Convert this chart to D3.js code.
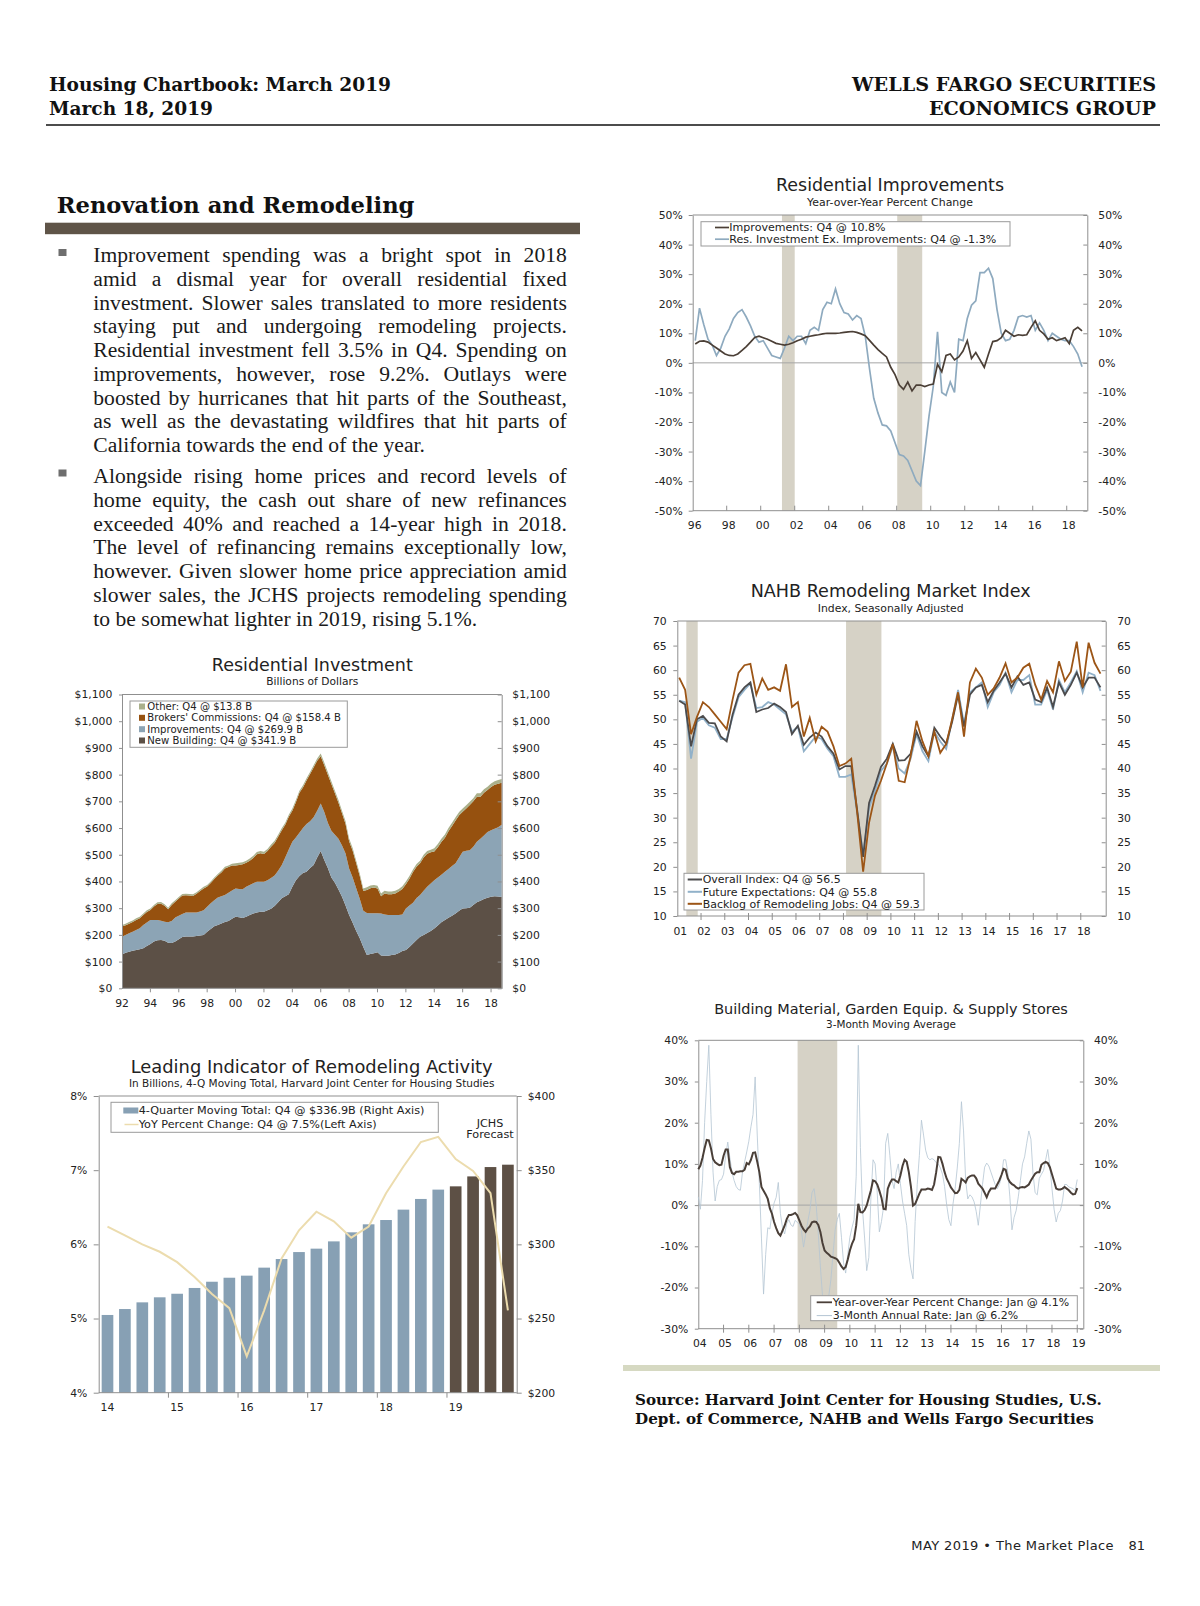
<!DOCTYPE html>
<html lang="en">
<head>
<meta charset="utf-8">
<title>Housing Chartbook: March 2019</title>
<script src="https://cdn.jsdelivr.net/npm/d3@7"></script>
<style>
  body { margin: 0; background: #fff; }
  svg text { font-family: "DejaVu Sans", Verdana, sans-serif; fill: #222; }
  svg text.serif { font-family: "DejaVu Serif", Georgia, serif; font-weight: bold; fill: #111; }
  svg text.body { font-family: "Liberation Serif", "Times New Roman", serif; font-size: 21.6px; fill: #1a1a1a; }
</style>
</head>
<body>
<svg id="page" width="1200" height="1606"></svg>
<script>
// ---- Residential Improvements, y/y % change, quarterly 1996Q1-2018Q4
var riImprovements = [
  6.4, 7.3, 7.4, 7.0,   6.0, 5.0, 4.0, 3.0,   2.5, 2.4, 3.0, 4.2,   5.5, 7.0, 8.6, 9.0,
  8.5, 8.0, 7.3, 6.6,   6.3, 6.0, 6.3, 6.8,   7.5, 8.0, 8.7, 9.0,   9.3, 9.5, 9.8, 10.0,
  10.0, 10.0, 10.1, 10.3,  10.5, 10.6, 10.3, 9.8,  9.2, 7.6, 6.0, 4.5,  3.2, 2.0, -1.5, -4.0,
  -7.5, -9.0, -6.5, -9.5,  -7.5, -7.5, -8.0, -7.5,  -7.2, -0.5, -3.0, 2.5,  3.0, 1.0, 2.0, 4.0,
  7.5, 1.5, 3.5, 1.0,   -1.5, 3.0, 7.2, 7.5,   8.5, 11.0, 10.0, 9.0,   9.5, 9.3, 9.5, 12.0,
  14.2, 11.0, 9.8, 8.0,  8.5, 7.5, 8.0, 8.5,   6.5, 11.0, 12.0, 10.8
];
var riResInvEx = [
  7.5, 18.5, 13.0, 8.0,  6.0, 2.5, 5.0, 9.0,  11.5, 15.0, 17.0, 18.0,  15.5, 12.5, 9.0, 7.0,
  7.5, 5.0, 2.5, 2.0,   1.5, 5.0, 9.0, 7.5,  9.0, 9.0, 6.5, 11.0,   12.0, 11.0, 18.0, 20.5,
  20.0, 25.0, 20.0, 17.0,  16.5, 14.5, 16.0, 15.0,  9.0, -2.0, -12.0, -17.0,  -21.0, -21.3, -23.0, -27.0,
  -31.0, -31.5, -33.0, -36.5,  -40.0, -41.5, -30.0, -18.0,  -8.0, 10.5, -10.0, -11.0,  -6.5, -10.0, 8.0, 7.5,
  15.0, 19.5, 21.0, 30.5,  30.5, 32.0, 28.5, 18.0,  10.0, 7.5, 8.0, 11.0,  15.5, 16.0, 15.5, 16.0,
  11.0, 13.5, 11.0, 7.5,  10.0, 9.0, 8.0, 7.5,  7.5, 5.5, 3.0, -1.3
];
var riRecessions = [[2001.25, 2002.0], [2008.03, 2009.5]];
var riYTicks = [-50, -40, -30, -20, -10, 0, 10, 20, 30, 40, 50];
var riXTicks = [1998, 2000, 2002, 2004, 2006, 2008, 2010, 2012, 2014, 2016, 2018];
var riXLabels = [1996, 1998, 2000, 2002, 2004, 2006, 2008, 2010, 2012, 2014, 2016, 2018];

// ---- NAHB Remodeling Market Index, quarterly 2001Q1-2018Q4
var nahbOverall = [
  53.8, 53.0, 44.5, 50.0,  50.7, 49.3, 49.2, 46.5,  45.5, 51.0, 55.0, 56.5,  57.5, 51.5, 52.0, 52.3,
  53.2, 52.5, 51.5, 47.0,  48.7, 44.8, 46.3, 47.3,  46.5, 44.5, 43.0, 39.8,  40.5, 40.5, 31.5, 22.0,
  33.0, 36.5, 40.3, 42.0,  45.0, 41.6, 41.7, 43.0,  47.5, 44.5, 42.5, 48.3,  46.5, 45.0, 49.5, 55.0,
  48.5, 55.0, 56.5, 57.0,  53.5, 55.8, 57.5, 59.3,  56.5, 58.7, 57.0, 57.5,  54.0, 53.5, 56.5, 52.5,
  57.5, 55.0, 57.0, 59.5,  56.5, 58.5, 58.5, 56.5
];
var nahbFuture = [
  53.8, 53.5, 42.0, 49.5,  50.3, 48.8, 48.3, 46.0,  46.0, 50.5, 54.5, 56.0,  57.3, 52.3, 52.5, 53.5,
  53.0, 52.0, 51.0, 47.5,  48.5, 43.5, 45.0, 46.5,  46.0, 44.0, 42.5, 38.3,  38.3, 38.8, 31.0, 22.5,
  32.0, 35.5, 39.5, 41.0,  44.5, 40.0, 39.0, 42.0,  47.0, 43.5, 41.5, 47.5,  45.5, 44.0, 50.0, 56.0,
  49.0, 55.5, 56.5, 57.5,  52.5, 55.5, 57.0, 59.5,  55.5, 58.0, 58.0, 59.0,  53.0, 53.0, 56.0, 52.0,
  58.0, 55.5, 57.5, 59.8,  55.5, 59.5, 59.0, 55.8
];
var nahbBacklog = [
  58.5, 56.0, 47.0, 50.5,  53.5, 52.5, 51.0, 49.5,  48.0, 54.0, 59.5, 61.0,  61.3, 55.0, 58.3, 56.0,
  56.5, 55.8, 61.2, 52.5,  53.5, 46.5, 50.3, 45.5,  48.5, 47.5, 44.5, 40.5,  41.0, 42.0, 31.0, 19.0,
  29.0, 34.5, 37.5, 41.0,  45.0, 37.5, 37.2, 42.5,  49.7, 45.5, 42.5, 47.5,  43.2, 45.0, 50.0, 55.5,
  46.5, 57.5, 60.3, 58.5,  55.0, 56.3, 58.5, 61.4,  57.5, 58.5, 60.5, 61.3,  57.0, 54.0, 57.8, 55.5,
  61.8, 57.8, 59.7, 65.8,  56.5, 65.6, 61.5, 59.3
];
var nahbRecessions = [[2001.38, 2001.86], [2008.11, 2009.6]];
var nahbYTicks = [10, 15, 20, 25, 30, 35, 40, 45, 50, 55, 60, 65, 70];
var nahbXTicks = [2002, 2003, 2004, 2005, 2006, 2007, 2008, 2009, 2010, 2011, 2012, 2013, 2014, 2015, 2016, 2017, 2018];
var nahbXLabels = [2001, 2002, 2003, 2004, 2005, 2006, 2007, 2008, 2009, 2010, 2011, 2012, 2013, 2014, 2015, 2016, 2017, 2018];

// ---- Residential Investment, billions of dollars, quarterly 1992Q1-2018Q4
var rinvNew = [
  127, 133, 137, 141,  143, 146, 150, 158,  166, 175, 180, 181,  178, 171, 170, 175,
  184, 192, 194, 194,  194, 196, 198, 200,  212, 222, 232, 237,  243, 248, 252, 260,
  268, 266, 263, 268,  274, 280, 284, 287,  287, 292, 298, 308,  322, 337, 345, 352,
  380, 405, 420, 432,  436, 450, 462, 490,  514, 480, 450, 415,  395, 370, 343, 310,
  274, 245, 215, 187,  155, 125, 128, 131,  135, 123, 122, 122,  125, 127, 132, 140,
  143, 155, 168, 181,  193, 200, 207, 215,  224, 235, 247, 256,  264, 272, 280, 290,
  299, 300, 302, 312,  322, 328, 334, 339,  343, 345, 344, 342
];
var rinvImprovements = [
  66, 67, 69, 71,  75, 79, 87, 88,  90, 81, 76, 72,  71, 76, 82, 90,
  88, 86, 90, 90,  90, 88, 90, 92,  93, 96, 98, 103,  102, 101, 106, 106,
  106, 106, 108, 112,  113, 113, 115, 112,  112, 113, 115, 114,  118, 124, 145, 168,
  169, 160, 162, 168,  179, 175, 178, 175,  178, 180, 170, 175,  180, 190, 192, 195,
  175, 170, 160, 148,  135, 157, 153, 150,  146, 157, 154, 152,  149, 147, 142, 136,
  156, 155, 152, 157,  156, 165, 173, 177,  181, 180, 178, 180,  183, 186, 188, 200,
  212, 215, 215, 218,  227, 232, 238, 246,  249, 252, 259, 270
];
var rinvBrokers = [
  38, 36, 36, 36,  38, 37, 37, 40,  37, 50, 60, 64,  60, 49, 60, 59,
  64, 69, 64, 63,  62, 70, 76, 82,  76, 76, 79, 82,  89, 100, 96, 94,
  86, 90, 93, 90,  91, 95, 103, 107,  104, 109, 117, 122,  127, 130, 122, 122,
  116, 132, 150, 152,  163, 177, 187, 187,  177, 175, 180, 175,  155, 135, 120, 110,
  102, 100, 93, 85,  74, 86, 94, 96,  93, 65, 79, 78,  78, 81, 88, 96,
  91, 100, 115, 117,  119, 125, 124, 117,  107, 113, 123, 128,  141, 150, 160, 158,
  150, 158, 169, 170,  168, 157, 160, 157,  162, 165, 163, 158
];
var rinvOther = [
  6, 6, 6, 6,  6, 6, 6, 6,  6, 6, 6, 6,  6, 6, 6, 6,
  6, 6, 6, 6,  6, 6, 6, 6,  6, 6, 6, 6,  6, 6, 6, 6,
  8, 8, 8, 8,  8, 8, 8, 8,  8, 8, 8, 8,  8, 8, 8, 8,
  8, 8, 8, 8,  8, 8, 8, 8,  10, 10, 10, 10,  10, 10, 10, 10,
  10, 10, 10, 10,  10, 10, 10, 10,  10, 10, 10, 10,  10, 10, 10, 10,
  10, 10, 10, 10,  10, 10, 10, 10,  12, 12, 12, 12,  12, 12, 12, 12,
  12, 12, 12, 12,  13, 13, 13, 13,  13, 13, 14, 14
];
var rinvYTicks = [0, 100, 200, 300, 400, 500, 600, 700, 800, 900, 1000, 1100];
var rinvXTicks = [1994, 1996, 1998, 2000, 2002, 2004, 2006, 2008, 2010, 2012, 2014, 2016, 2018];
var rinvXLabels = [1992, 1994, 1996, 1998, 2000, 2002, 2004, 2006, 2008, 2010, 2012, 2014, 2016, 2018];

// ---- Leading Indicator of Remodeling Activity, 2014Q1-2019Q4 (2019 = JCHS forecast)
var liQuarters = [
  "2014Q1", "2014Q2", "2014Q3", "2014Q4", "2015Q1", "2015Q2", "2015Q3", "2015Q4",
  "2016Q1", "2016Q2", "2016Q3", "2016Q4", "2017Q1", "2017Q2", "2017Q3", "2017Q4",
  "2018Q1", "2018Q2", "2018Q3", "2018Q4", "2019Q1", "2019Q2", "2019Q3", "2019Q4"
];
var liTotal = [252.4, 256.4, 260.9, 264.3, 266.7, 270.6, 274.8, 277.5, 278.9, 284.3, 290.1, 294.8,
               297.1, 302.0, 308.1, 313.5, 316.4, 323.4, 330.6, 336.9, 339.1, 345.8, 352.1, 353.7];
var liYoY = [6.24, 6.12, 6.00, 5.90, 5.76, 5.56, 5.33, 5.14, 4.49, 5.11, 5.81, 6.19,
             6.44, 6.31, 6.09, 6.24, 6.69, 7.05, 7.38, 7.45, 7.15, 6.99, 6.69, 5.11];
var liLeftTicks = [4, 5, 6, 7, 8];
var liRightTicks = [200, 250, 300, 350, 400];
var liYears = ["14", "15", "16", "17", "18", "19"];

// ---- Building Material, Garden Equip. & Supply Stores, monthly Jan 2004 - Jan 2019
var bmYoY = [
  8.7, 9.6, 11.5, 13.8, 15.8, 15.7, 13.8, 11.2, 10.4, 10.0, 9.7, 9.8,
  12.0, 13.5, 13.5, 9.2, 7.8, 7.5, 8.1, 8.1, 8.2, 8.2, 8.6, 10.2,
  9.9, 11.0, 12.7, 12.8, 10.5, 8.0, 4.4, 3.5, 2.6, 1.5, -0.8, -2.1,
  -4.1, -5.6, -6.8, -7.4, -6.2, -5.0, -3.4, -2.4, -2.4, -2.2, -1.9, -2.5,
  -3.7, -5.0, -5.9, -6.5, -5.7, -5.2, -4.2, -4.0, -4.1, -4.8, -6.5, -9.2,
  -11.0, -11.6, -12.0, -12.5, -12.7, -12.9, -13.2, -14.0, -14.9, -15.5, -15.0, -13.2,
  -11.0, -9.4, -8.3, -5.0, 0.3, -1.7, -1.8, -1.2, -0.1, 1.8, 3.6, 6.0,
  5.8, 5.0, 3.5, 1.8, -0.9, -1.0, 4.0, 5.3, 6.2, 6.2, 5.8, 5.5,
  7.2, 9.5, 11.0, 10.5, 8.0, 4.5, -0.1, 0.3, 1.5, 2.8, 3.8, 3.8,
  3.8, 4.0, 3.9, 3.7, 5.0, 8.0, 11.7, 11.6, 10.0, 8.0, 6.4, 5.4,
  4.3, 3.6, 2.9, 3.0, 3.7, 6.4, 6.0, 5.5, 6.6, 7.0, 7.2, 7.2,
  6.5, 5.2, 4.6, 4.0, 3.0, 1.9, 3.2, 4.0, 4.0, 4.0, 5.0, 6.0,
  7.3, 8.8, 8.6, 6.5, 5.6, 5.1, 4.8, 4.3, 4.0, 4.3, 4.4, 4.3,
  4.6, 5.0, 6.0, 6.8, 7.6, 8.0, 8.0, 9.8, 10.2, 10.5, 10.2, 9.2,
  7.5, 5.8, 4.0, 3.8, 3.8, 4.0, 4.4, 4.0, 3.6, 3.0, 2.6, 2.7,
  4.1
];
var bmRate = [
  2.0, -1.0, 6.0, 20.0, 30.0, 38.8, 22.0, 8.0, 1.0, 4.5, 6.0, 6.2,
  7.5, 12.0, 15.3, 11.5, 8.0, 6.0, 4.5, 3.8, 3.6, 8.0, 10.5, 12.9,
  15.5, 19.0, 22.0, 31.1, 17.0, 5.2, -8.0, -21.6, -12.0, -5.5, -5.8, -2.0,
  0.5, 1.9, 5.5, -2.0, -5.5, -7.0, -4.5, -3.5, -4.8, -5.2, -3.7, -4.2,
  -4.6, -6.2, -10.2, -7.0, -4.0, -1.3, 3.0, 4.0, 0.0, -7.0, -15.0, -22.0,
  -26.0, -24.0, -22.0, -18.0, -11.8, -6.0, -3.5, -2.0, -7.8, -14.0, -16.5, -12.0,
  -7.8, -5.5, -3.5, 7.0, 38.8, 14.0, -1.0, -8.0, -15.9, -12.7, 2.0, 11.0,
  10.0, 3.0, -6.5, -4.0, -0.5, 15.0, 17.4, 12.0, 6.0, 4.0, 8.0, 10.0,
  5.2, 1.0, -2.0, -5.0, -12.0, -15.5, -17.9, -4.0, 5.0, 12.0, 20.6, 17.0,
  13.3, 11.5, 11.0, 11.3, 11.0, 10.3, 10.0, 9.0, 7.5, 4.5, 0.0, -3.5,
  -5.0, 0.3, 4.0, 9.0, 15.0, 25.1, 18.0, 6.0, 1.5, 2.5, 2.0, 0.8,
  -1.5, -4.9, 0.0, 5.0, 9.2, 10.2, 9.5, 8.0, 6.5, 5.0, 4.0, 5.0,
  6.8, 11.0, 11.0, 8.0, 2.0, -6.0, -3.0, -1.3, 2.0, 6.0, 10.0, 11.7,
  15.0, 18.0, 16.0, 7.6, 3.0, 2.5, 6.5, 7.5, 8.4, 11.0, 13.5, 9.5,
  4.0, -1.0, -4.1, -2.0, -1.3, 1.0, 5.0, 5.0, 4.4, 4.2, 4.0, 3.5,
  6.2
];
var bmRecessions = [[2007.93, 2009.5]];
var bmYTicks = [-30, -20, -10, 0, 10, 20, 30, 40];
var bmXTicks = [2005, 2006, 2007, 2008, 2009, 2010, 2011, 2012, 2013, 2014, 2015, 2016, 2017, 2018, 2019];
var bmXLabels = [2004, 2005, 2006, 2007, 2008, 2009, 2010, 2011, 2012, 2013, 2014, 2015, 2016, 2017, 2018, 2019];

// ---- page text
var bullet1 = [
  "Improvement spending was a bright spot in 2018",
  "amid a dismal year for overall residential fixed",
  "investment. Slower sales translated to more residents",
  "staying put and undergoing remodeling projects.",
  "Residential investment fell 3.5% in Q4. Spending on",
  "improvements, however, rose 9.2%. Outlays were",
  "boosted by hurricanes that hit parts of the Southeast,",
  "as well as the devastating wildfires that hit parts of",
  "California towards the end of the year."
];
var bullet2 = [
  "Alongside rising home prices and record levels of",
  "home equity, the cash out share of new refinances",
  "exceeded 40% and reached a 14-year high in 2018.",
  "The level of refinancing remains exceptionally low,",
  "however. Given slower home price appreciation amid",
  "slower sales, the JCHS projects remodeling spending",
  "to be somewhat lighter in 2019, rising 5.1%."
];

var AX = "#8f8f8f";
var REC = "#d6d2c6";
var FS = 10.8;

var svg = d3.select("#page");
svg.append("rect").attr("width", 1200).attr("height", 1606).attr("fill", "#fff");

function fitText(t, w) {
  var n = t.node().getComputedTextLength();
  var fs = parseFloat(t.style("font-size"));
  var s = fs * w / n;
  t.style("font-size", s.toFixed(2) + "px");
  return s;
}
function put(x, y, s, cls, size, anchor) {
  var t = svg.append("text").attr("x", x).attr("y", y).text(s).style("font-size", size + "px");
  if (cls) t.attr("class", cls);
  if (anchor) t.attr("text-anchor", anchor);
  return t;
}

// header
var hs = fitText(put(49, 91, "Housing Chartbook: March 2019", "serif", 20), 342);
put(49, 114.6, "March 18, 2019", "serif", hs);
var hr = fitText(put(1156, 91, "WELLS FARGO SECURITIES", "serif", 20, "end"), 304);
put(1156, 114.6, "ECONOMICS GROUP", "serif", hr, "end");
svg.append("line").attr("x1", 46).attr("x2", 1160).attr("y1", 125).attr("y2", 125)
  .attr("stroke", "#111").attr("stroke-width", 1.6);

// section title and text
fitText(put(56.7, 213.3, "Renovation and Remodeling", "serif", 26), 358);
svg.append("rect").attr("x", 45).attr("y", 222.7).attr("width", 535).attr("height", 11.5).attr("fill", "#5f5448");

function para(lines, x, y0, w, lh) {
  lines.forEach(function (s, i) {
    var t = svg.append("text").attr("class", "body").attr("x", x).attr("y", y0 + i * lh).text(s);
    if (i < lines.length - 1) {
      var n = s.split(" ").length - 1;
      var nat = t.node().getComputedTextLength();
      t.style("word-spacing", ((w - nat) / n).toFixed(2) + "px");
    }
  });
}
svg.append("rect").attr("x", 58.5).attr("y", 249).attr("width", 8).attr("height", 7).attr("fill", "#6e6e6e");
svg.append("rect").attr("x", 58.5).attr("y", 469.5).attr("width", 8).attr("height", 7).attr("fill", "#6e6e6e");
para(bullet1, 93.3, 262.2, 473.5, 23.75);
para(bullet2, 93.3, 483, 473.5, 23.75);

// source block and footer
svg.append("rect").attr("x", 623).attr("y", 1365).attr("width", 537).attr("height", 6).attr("fill", "#d6d9c2");
var ss = fitText(put(635, 1405, "Source: Harvard Joint Center for Housing Studies, U.S.", "serif", 17), 467);
put(635, 1423.5, "Dept. of Commerce, NAHB and Wells Fargo Securities", "serif", ss);
put(1114, 1550, "MAY 2019 \u2022 The Market Place", null, 13, "end").attr("fill", "#6a6a6a").style("letter-spacing", "0.4px");
put(1145, 1550, "81", null, 13, "end").attr("fill", "#6a6a6a");

// ---- shared chart helpers
function title(cx, y1, s1, w1, y2, s2, w2) {
  fitText(put(cx, y1, s1, null, 16, "middle").attr("fill", "#111"), w1);
  fitText(put(cx, y2, s2, null, 10, "middle").attr("fill", "#222"), w2);
}
function box(g, L, R, T, B) {
  g.append("line").attr("x1", L).attr("x2", R).attr("y1", T).attr("y2", T).attr("stroke", AX);
  g.append("line").attr("x1", L).attr("x2", R).attr("y1", B).attr("y2", B).attr("stroke", AX);
}
function yAxes(g, y, L, R, vals, fmt, o) {
  g.append("g").attr("transform", "translate(" + L + ",0)")
    .call(d3.axisLeft(y).tickValues(vals).tickFormat(fmt).tickSizeInner(o.tl).tickSizeOuter(0).tickPadding(o.pl));
  g.append("g").attr("transform", "translate(" + R + ",0)")
    .call(d3.axisRight(y).tickValues(vals).tickFormat(fmt).tickSizeInner(o.tr).tickSizeOuter(0).tickPadding(o.pr));
  g.selectAll(".domain, .tick line").attr("stroke", AX);
  g.selectAll(".tick text").attr("fill", "#333").style("font-size", FS + "px");
}
function xAxis(g, x, B, ticks, up, down, labels, dx, ly) {
  g.selectAll(null).data(ticks).join("line")
    .attr("x1", function (d) { return x(d); }).attr("x2", function (d) { return x(d); })
    .attr("y1", B - up).attr("y2", B + down).attr("stroke", AX);
  g.selectAll(null).data(labels).join("text")
    .attr("x", function (d) { return x(d) + dx; }).attr("y", B + ly)
    .attr("text-anchor", "middle").attr("fill", "#333").style("font-size", FS + "px")
    .text(function (d) { return String(d % 100).padStart(2, "0"); });
}
function recessions(g, x, list, T, B) {
  g.selectAll(null).data(list).join("rect")
    .attr("x", function (d) { return x(d[0]); }).attr("width", function (d) { return x(d[1]) - x(d[0]); })
    .attr("y", T).attr("height", B - T).attr("fill", REC);
}
function legendBox(g, x0, y0, w, h) {
  g.append("rect").attr("x", x0).attr("y", y0).attr("width", w).attr("height", h)
    .attr("fill", "#fff").attr("stroke", "#9a9a9a");
}
function legendText(g, x, y, s, fs) {
  return g.append("text").attr("x", x).attr("y", y).attr("fill", "#222").style("font-size", fs + "px").text(s);
}
function legendLine(g, x1, x2, y, color, sw) {
  g.append("line").attr("x1", x1).attr("x2", x2).attr("y1", y).attr("y2", y).attr("stroke", color).attr("stroke-width", sw);
}
var pct = function (d) { return d + "%"; };

// ---- Chart: Residential Improvements
(function () {
  var L = 692.7, R = 1087.3, T = 215, B = 510.7;
  var x = d3.scaleLinear().domain([1996, 2019.21]).range([L, R]);
  var y = d3.scaleLinear().domain([-50, 50]).range([B, T]);
  var g = svg.append("g");
  title(890, 190.7, "Residential Improvements", 228, 206, "Year-over-Year Percent Change", 166);
  recessions(g, x, riRecessions, T, B);
  g.append("line").attr("x1", L).attr("x2", R).attr("y1", y(0)).attr("y2", y(0)).attr("stroke", "#a5a5a5");
  box(g, L, R, T, B);
  yAxes(g, y, L, R, riYTicks, pct, { tl: 4, pl: 6, tr: -4, pr: 11 });
  xAxis(g, x, B, riXTicks, 5, 0, riXLabels, 2, 18);
  var tq = function (i) { return 1996.15 + i * 0.25; };
  var line = d3.line().x(function (d, i) { return x(tq(i)); }).y(function (d) { return y(d); });
  g.append("path").datum(riResInvEx).attr("d", line).attr("fill", "none").attr("stroke", "#8eaabf").attr("stroke-width", 1.7);
  g.append("path").datum(riImprovements).attr("d", line).attr("fill", "none").attr("stroke", "#4b3f36").attr("stroke-width", 1.7);
  legendBox(g, 701, 221.7, 309, 24.3);
  legendLine(g, 715, 729, 227.5, "#4b3f36", 1.7);
  legendLine(g, 715, 729, 239.2, "#8eaabf", 1.7);
  var t2 = legendText(g, 729.3, 242.7, "Res. Investment Ex. Improvements: Q4 @ -1.3%", 10.5);
  var fs = fitText(t2, 267);
  legendText(g, 729.3, 231, "Improvements: Q4 @ 10.8%", fs);
})();

// ---- Chart: NAHB Remodeling Market Index
(function () {
  var L = 677.3, R = 1105.7, T = 621, B = 916;
  var x = d3.scaleLinear().domain([2001, 2019.05]).range([L, R]);
  var y = d3.scaleLinear().domain([10, 70]).range([B, T]);
  var g = svg.append("g");
  title(890.7, 597.3, "NAHB Remodeling Market Index", 280, 611.7, "Index, Seasonally Adjusted", 146);
  recessions(g, x, nahbRecessions, T, B);
  box(g, L, R, T, B);
  yAxes(g, y, L, R, nahbYTicks, function (d) { return d; }, { tl: 4, pl: 6.6, tr: -4, pr: 11.5 });
  xAxis(g, x, B, nahbXTicks, 3, 4, nahbXLabels, 3, 19);
  var tq = function (i) { return 2001.08 + i * 0.25; };
  var line = d3.line().x(function (d, i) { return x(tq(i)); }).y(function (d) { return y(d); });
  g.append("path").datum(nahbFuture).attr("d", line).attr("fill", "none").attr("stroke", "#91b1c9").attr("stroke-width", 1.8);
  g.append("path").datum(nahbOverall).attr("d", line).attr("fill", "none").attr("stroke", "#4b4b4d").attr("stroke-width", 1.8);
  g.append("path").datum(nahbBacklog).attr("d", line).attr("fill", "none").attr("stroke", "#9c5516").attr("stroke-width", 1.8);
  legendBox(g, 684, 873.3, 240, 36.7);
  legendLine(g, 687.7, 702, 879.5, "#4b4b4d", 2);
  legendLine(g, 687.7, 702, 891.8, "#91b1c9", 2);
  legendLine(g, 687.7, 702, 903.8, "#9c5516", 2);
  var t3 = legendText(g, 702.7, 907.7, "Backlog of Remodeling Jobs: Q4 @ 59.3", 10.5);
  var fs = fitText(t3, 217.3);
  legendText(g, 702.7, 883.3, "Overall Index: Q4 @ 56.5", fs);
  legendText(g, 702.7, 895.7, "Future Expectations: Q4 @ 55.8", fs);
})();

// ---- Chart: Residential Investment (stacked areas)
(function () {
  var L = 122, R = 501.7, T = 694.5, B = 988.3;
  var x = d3.scaleLinear().domain([1992, 2018.75]).range([L, R]);
  var y = d3.scaleLinear().domain([0, 1100]).range([B, T]);
  var g = svg.append("g");
  title(312.3, 670.7, "Residential Investment", 201, 685, "Billions of Dollars", 92.3);
  var rows = rinvNew.map(function (v, i) {
    return { t: 1992 + i * 0.25, newBuilding: v, improvements: rinvImprovements[i], brokers: rinvBrokers[i], other: rinvOther[i] };
  });
  var keys = ["newBuilding", "improvements", "brokers", "other"];
  var colors = { newBuilding: "#5c5046", improvements: "#8ca4b5", brokers: "#96510f", other: "#aab08b" };
  var series = d3.stack().keys(keys)(rows);
  var area = d3.area().x(function (d) { return x(d.data.t); })
    .y0(function (d) { return y(d[0]); }).y1(function (d) { return y(d[1]); });
  g.selectAll(null).data(series).join("path").attr("d", area)
    .attr("fill", function (d) { return colors[d.key]; });
  box(g, L, R, T, B);
  var money = function (d) { return "$" + d3.format(",")(d); };
  yAxes(g, y, L, R, rinvYTicks, money, { tl: 3, pl: 6.7, tr: -4, pr: 10.6 });
  xAxis(g, x, B, rinvXTicks, 0, 4, rinvXLabels, 0, 18.5);
  legendBox(g, 130, 701, 217.3, 46.3);
  var items = [["other", "Other: Q4 @ $13.8 B"], ["brokers", "Brokers' Commissions: Q4 @ $158.4 B"],
               ["improvements", "Improvements: Q4 @ $269.9 B"], ["newBuilding", "New Building: Q4 @ $341.9 B"]];
  var ys = [710, 721.3, 732.7, 744];
  var probe = legendText(g, 147.3, ys[1], items[1][1], 9.5);
  var fs = fitText(probe, 193.7);
  probe.remove();
  items.forEach(function (it, i) {
    g.append("rect").attr("x", 139).attr("y", ys[i] - 6.5).attr("width", 6).attr("height", 6).attr("fill", colors[it[0]]);
    legendText(g, 147.3, ys[i], it[1], fs);
  });
})();

// ---- Chart: Leading Indicator of Remodeling Activity
(function () {
  var L = 98.7, R = 516.7, T = 1096, B = 1392.7;
  var xb = d3.scaleBand().domain(liQuarters).range([L, R]).paddingInner(0.33).paddingOuter(0.17);
  var yl = d3.scaleLinear().domain([4, 8]).range([B, T]);
  var yr = d3.scaleLinear().domain([200, 400]).range([B, T]);
  var g = svg.append("g");
  title(311.7, 1073.3, "Leading Indicator of Remodeling Activity", 362, 1086.7,
        "In Billions, 4-Q Moving Total, Harvard Joint Center for Housing Studies", 365.7);
  var bw = xb.bandwidth();
  g.selectAll(null).data(liTotal).join("rect")
    .attr("x", function (d, i) { return xb(liQuarters[i]); })
    .attr("y", function (d) { return yr(d); })
    .attr("width", bw)
    .attr("height", function (d) { return B - yr(d); })
    .attr("fill", function (d, i) { return liQuarters[i].indexOf("2019") === 0 ? "#5d5045" : "#87a0b4"; });
  box(g, L, R, T, B);
  g.append("g").attr("transform", "translate(" + L + ",0)")
    .call(d3.axisLeft(yl).tickValues(liLeftTicks).tickFormat(pct).tickSizeInner(5).tickSizeOuter(0).tickPadding(6.4));
  g.append("g").attr("transform", "translate(" + R + ",0)")
    .call(d3.axisRight(yr).tickValues(liRightTicks).tickFormat(function (d) { return "$" + d; }).tickSizeInner(5).tickSizeOuter(0).tickPadding(6));
  g.selectAll(".domain, .tick line").attr("stroke", AX);
  g.selectAll(".tick text").attr("fill", "#333").style("font-size", FS + "px");
  var gap = xb.step() - bw;
  var yearStarts = liYears.map(function (yy) { return "20" + yy + "Q1"; });
  g.selectAll(null).data(yearStarts.slice(1)).join("line")
    .attr("x1", function (d) { return xb(d) - gap / 2; }).attr("x2", function (d) { return xb(d) - gap / 2; })
    .attr("y1", B).attr("y2", B + 5).attr("stroke", AX);
  g.selectAll(null).data(liYears).join("text")
    .attr("x", function (d, i) { return xb(yearStarts[i]) + bw / 2; }).attr("y", B + 18.5)
    .attr("text-anchor", "middle").attr("fill", "#333").style("font-size", FS + "px").text(function (d) { return d; });
  var line = d3.line().x(function (d, i) { return xb(liQuarters[i]) + bw / 2; }).y(function (d) { return yl(d); });
  g.append("path").datum(liYoY).attr("d", line).attr("fill", "none").attr("stroke", "#ecdcae").attr("stroke-width", 2);
  legendBox(g, 111, 1102.3, 327.3, 30);
  g.append("rect").attr("x", 123.3).attr("y", 1107.5).attr("width", 15).attr("height", 6).attr("fill", "#87a0b4");
  legendLine(g, 124.5, 138.5, 1124.5, "#ecdcae", 1.5);
  var t1 = legendText(g, 138.7, 1114, "4-Quarter Moving Total: Q4 @ $336.9B (Right Axis)", 9.5);
  var fs = fitText(t1, 286);
  legendText(g, 138.7, 1128.3, "YoY Percent Change: Q4 @ 7.5%(Left Axis)", fs);
  g.append("text").attr("x", 490).attr("y", 1127.3).attr("text-anchor", "middle").attr("fill", "#222").style("font-size", fs + "px").text("JCHS");
  g.append("text").attr("x", 490).attr("y", 1138.3).attr("text-anchor", "middle").attr("fill", "#222").style("font-size", fs + "px").text("Forecast");
})();

// ---- Chart: Building Material, Garden Equip. & Supply Stores
(function () {
  var L = 698.3, R = 1083.3, T = 1040.3, B = 1328.7;
  var x = d3.scaleLinear().domain([2004, 2019.24]).range([L, R]);
  var y = d3.scaleLinear().domain([-30, 40]).range([B, T]);
  var g = svg.append("g");
  title(891, 1014, "Building Material, Garden Equip. & Supply Stores", 354, 1027.7, "3-Month Moving Average", 130);
  recessions(g, x, bmRecessions, T, B);
  g.append("line").attr("x1", L).attr("x2", R).attr("y1", y(0)).attr("y2", y(0)).attr("stroke", "#a5a5a5");
  box(g, L, R, T, B);
  yAxes(g, y, L, R, bmYTicks, pct, { tl: 3.5, pl: 6.5, tr: -3.5, pr: 10.7 });
  xAxis(g, x, B, bmXTicks, 4, 4, bmXLabels, 1.5, 18.5);
  var tm = function (i) { return 2004 + i / 12; };
  var line = d3.line().x(function (d, i) { return x(tm(i)); }).y(function (d) { return y(d); });
  g.append("path").datum(bmRate).attr("d", line).attr("fill", "none").attr("stroke", "#b4c5d3").attr("stroke-width", 0.8);
  g.append("path").datum(bmYoY).attr("d", line).attr("fill", "none").attr("stroke", "#4a3f38").attr("stroke-width", 2);
  legendBox(g, 810.7, 1295.7, 266.6, 25);
  legendLine(g, 816.7, 832, 1302.3, "#4a3f38", 1.8);
  legendLine(g, 816.7, 832, 1315.6, "#b4c5d3", 1);
  var t1 = legendText(g, 832.7, 1306, "Year-over-Year Percent Change: Jan @ 4.1%", 10);
  var fs = fitText(t1, 236.7);
  legendText(g, 832.7, 1319.3, "3-Month Annual Rate: Jan @ 6.2%", fs);
})();
</script>
</body>
</html>
